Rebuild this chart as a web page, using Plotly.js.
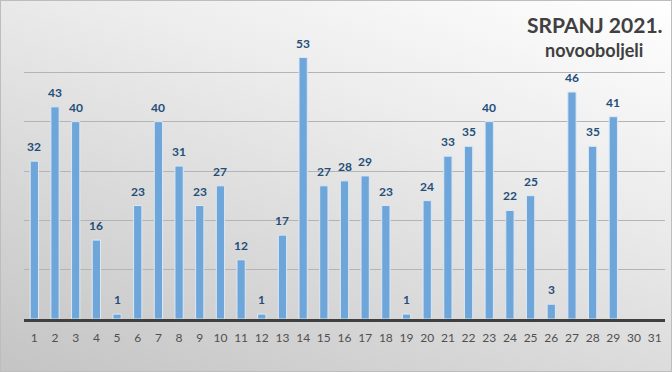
<!DOCTYPE html>
<html><head><meta charset="utf-8">
<script src="https://cdn.plot.ly/plotly-3.0.1.min.js"></script>
<style>
html,body{margin:0;padding:0;}
#wrap{width:672px;height:372px;position:relative;box-sizing:border-box;border:1px solid #bdbdbd;
background:linear-gradient(200deg,#ffffff 0%,#ececec 35%,#d6d6d6 70%,#c4c4c4 100%);}
#chart{width:672px;height:372px;position:absolute;left:-1px;top:-1px;}
</style></head>
<body><div id="wrap"><div id="chart"></div></div>
<script>
const days = ["1","2","3","4","5","6","7","8","9","10","11","12","13","14","15","16","17","18","19","20","21","22","23","24","25","26","27","28","29","30","31"];
const cases = [32,43,40,16,1,23,40,31,23,27,12,1,17,53,27,28,29,23,1,24,33,35,40,22,25,3,46,35,41,null,null];
const titleMain = "SRPANJ 2021.";
const titleSub = "novooboljeli";

const trace = {
  type:"bar", x:days, y:cases,
  marker:{color:"#6fa6da", line:{color:"#dbe8f5", width:1}},
  hoverinfo:"none"
};
const ann = [];
days.forEach((d,i)=>{
  if(cases[i]!==null) ann.push({x:i,y:cases[i],text:"<b>"+cases[i]+"</b>",showarrow:false,
    yanchor:"bottom",yshift:5,font:{family:"Lato, 'Open Sans', sans-serif",size:12,color:"#1f4e79"}});
});
ann.push({xref:"paper",yref:"paper",x:1,y:1.0,xanchor:"right",yanchor:"bottom",yshift:-16,
  text:"<b>"+titleMain+"</b>",showarrow:false,font:{family:"Lato, 'Open Sans', sans-serif",size:21,color:"#404040"}});
ann.push({xref:"paper",yref:"paper",x:1,y:1.0,xanchor:"right",yanchor:"top",yshift:-14,xshift:-20,
  text:"<b>"+titleSub+"</b>",showarrow:false,font:{family:"Lato, 'Open Sans', sans-serif",size:18,color:"#404040"}});

const layout = {
  width:672,height:372,
  margin:{l:24,r:7,t:23,b:53},
  paper_bgcolor:"rgba(0,0,0,0)",plot_bgcolor:"rgba(0,0,0,0)",
  bargap:0.6,
  showlegend:false,
  xaxis:{type:"category",showline:true,linecolor:"#404040",linewidth:3,ticks:"",ticklabelstandoff:6,
    tickfont:{family:"Lato, 'Open Sans', sans-serif",size:12,color:"#505050"},showgrid:false},
  yaxis:{range:[0,60],dtick:10,showticklabels:false,showgrid:true,gridcolor:"#b4b4b4",gridwidth:1,
    zeroline:false,showline:false,ticks:""},
  annotations:ann
};
Plotly.newPlot("chart",[trace],layout,{displayModeBar:false,staticPlot:true});
</script></body></html>
